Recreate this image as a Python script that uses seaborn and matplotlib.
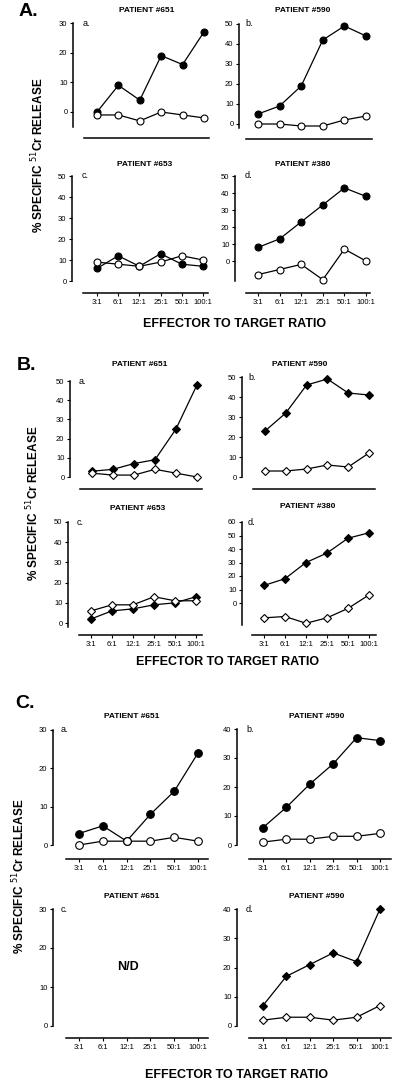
import numpy as np
import pandas as pd
import matplotlib
matplotlib.use('Agg')
import matplotlib.pyplot as plt
import seaborn as sns

ratios = ['3:1', '6:1', '12:1', '25:1', '50:1', '100:1']

# section A (circles)
a651_fill = [0, 9, 4, 19, 16, 27]
a651_open = [-1, -1, -3, 0, -1, -2]
a590_fill = [5, 9, 19, 42, 49, 44]
a590_open = [0, 0, -1, -1, 2, 4]
a653_fill = [6, 12, 7, 13, 8, 7]
a653_open = [9, 8, 7, 9, 12, 10]
a380_fill = [8, 13, 23, 33, 43, 38]
a380_open = [-8, -5, -2, -11, 7, 0]

# section B (diamonds)
b651_fill = [3, 4, 7, 9, 25, 48]
b651_open = [2, 1, 1, 4, 2, 0]
b590_fill = [23, 32, 46, 49, 42, 41]
b590_open = [3, 3, 4, 6, 5, 12]
b653_fill = [2, 6, 7, 9, 10, 13]
b653_open = [6, 9, 9, 13, 11, 11]
b380_fill = [13, 18, 30, 37, 48, 52]
b380_open = [-11, -10, -15, -11, -4, 6]

# section C
c651_fill = [3, 5, 1, 8, 14, 24]
c651_open = [0, 1, 1, 1, 2, 1]
c590_fill = [6, 13, 21, 28, 37, 36]
c590_open = [1, 2, 2, 3, 3, 4]
c590d_fill = [7, 17, 21, 25, 22, 40]
c590d_open = [2, 3, 3, 2, 3, 7]

W, H = 400, 1083
sns.set_style('white')
plt.rcParams['font.family'] = ['Liberation Sans', 'DejaVu Sans']
plt.rcParams['text.color'] = 'black'

fig = plt.figure(figsize=(W / 100, H / 100), dpi=100)
fig.patch.set_facecolor('white')


def ftext(x, y, s, **kw):
    fig.text(x / W, 1 - y / H, s, ha=kw.pop('ha', 'center'), va=kw.pop('va', 'center'),
             color='black', **kw)


def panel(geom, fill, hollow, marker, ms, yticks, show_x):
    # geom in pixels: y-spine x, x-line left/right/y, top tick pix & value, zero pix, spine low value, first/last point x
    ysp, xl, xr, xy, ptop, vtop, p0, lo, x0, x5 = geom
    ax = fig.add_axes([xl / W, 1 - xy / H, (xr - xl) / W, (xy - ptop) / H])
    s = (p0 - ptop) / vtop
    ax.set_ylim((p0 - xy) / s, vtop)
    dx = (x5 - x0) / 5
    ax.set_xlim((xl - x0) / dx, (xr - x0) / dx)
    ax.patch.set_alpha(0)

    if fill is not None:
        df = pd.DataFrame({'pos': np.arange(len(ratios)), 'fill': fill, 'open': hollow})
        for col, face in [('fill', 'black'), ('open', 'white')]:
            sns.lineplot(data=df, x='pos', y=col, ax=ax, color='black', lw=0.9,
                         marker=marker, markersize=ms, markerfacecolor=face,
                         markeredgecolor='black', markeredgewidth=0.8, clip_on=False)
    ax.set_xlabel('')
    ax.set_ylabel('')

    for side in ['top', 'right']:
        ax.spines[side].set_visible(False)
    for side in ['left', 'bottom']:
        ax.spines[side].set_color('black')
        ax.spines[side].set_linewidth(1.1)
    ax.spines['left'].set_position(('outward', (xl - ysp) * 0.72))
    ax.spines['left'].set_bounds(lo, vtop)

    ax.set_yticks(yticks)
    ax.set_yticklabels([str(t) for t in yticks], fontsize=5.5)
    if show_x:
        ax.set_xticks(np.arange(len(ratios)))
        ax.set_xticklabels(ratios, fontsize=5.5)
    else:
        ax.set_xticks([])
    ax.tick_params(left=True, bottom=show_x, length=2.5, width=0.8, color='black',
                   direction='out', pad=1.5, labelcolor='black')
    return ax


t30 = [0, 10, 20, 30]
t40 = [0, 10, 20, 30, 40]
t50 = [0, 10, 20, 30, 40, 50]
t60 = [0, 10, 20, 30, 40, 50, 60]

# A
panel((73, 84, 209, 138, 23, 30, 112, -5, 97, 204), a651_fill, a651_open, 'o', 5, t30, False)
panel((239, 246, 372, 139, 24, 50, 124, -2, 258, 366), a590_fill, a590_open, 'o', 5, t50, False)
panel((72, 83, 208, 293, 176, 50, 281, 0, 97, 203), a653_fill, a653_open, 'o', 5, t50, True)
panel((235, 246, 370, 293, 176, 50, 261, -12, 258, 366), a380_fill, a380_open, 'o', 5, t50, True)
# B
panel((70, 80, 202, 489, 381, 50, 477, 0, 92, 197), b651_fill, b651_open, 'D', 4, t50, False)
panel((242, 253, 375, 489, 377, 50, 477, 0, 265, 369), b590_fill, b590_open, 'D', 4, t50, False)
panel((68, 79, 202, 635, 522, 50, 623, -2, 91, 196), b653_fill, b653_open, 'D', 4, t50, True)
panel((242, 252, 376, 635, 522, 60, 603, -16, 264, 369), b380_fill, b380_open, 'D', 4, t60, True)
# C
panel((53, 66, 208, 859, 730, 30, 845, 0, 79, 198), c651_fill, c651_open, 'o', 5.5, t30, True)
panel((237, 249, 391, 859, 729, 40, 845, 0, 263, 380), c590_fill, c590_open, 'o', 5.5, t40, True)
panel((53, 66, 208, 1038, 909, 30, 1026, 0, 79, 198), None, None, 'o', 5.5, t30, True)
panel((237, 249, 391, 1038, 909, 40, 1026, 0, 263, 380), c590d_fill, c590d_open, 'D', 4.5, t40, True)

# section letters
ftext(28, 12, 'A.', fontsize=14, fontweight='bold')
ftext(27, 366, 'B.', fontsize=14, fontweight='bold')
ftext(25, 703, 'C.', fontsize=14, fontweight='bold')

# titles
tkw = dict(fontsize=6, fontweight='bold')
for x, y, s in [(147, 10, 'PATIENT #651'), (303, 10, 'PATIENT #590'),
                (145, 164, 'PATIENT #653'), (303, 164, 'PATIENT #380'),
                (140, 364, 'PATIENT #651'), (300, 364, 'PATIENT #590'),
                (138, 508, 'PATIENT #653'), (308, 506, 'PATIENT #380'),
                (132, 716, 'PATIENT #651'), (317, 716, 'PATIENT #590'),
                (132, 897, 'PATIENT #651'), (317, 897, 'PATIENT #590')]:
    ftext(x, y, s, **tkw)

# panel letters
for x, y, s in [(83, 24, 'a.'), (245, 24, 'b.'), (82, 176, 'c.'), (245, 176, 'd.'),
                (79, 381, 'a.'), (248, 377, 'b.'), (77, 522, 'c.'), (248, 522, 'd.'),
                (61, 730, 'a.'), (246, 730, 'b.'), (61, 909, 'c.'), (246, 909, 'd.')]:
    ftext(x, y, s, fontsize=6.5, ha='left')

ftext(128, 967, 'N/D', fontsize=9, fontweight='bold')

ylab = '% SPECIFIC $^{51}$Cr RELEASE'
for x, y in [(38, 155), (33, 503), (19, 876)]:
    ftext(x, y, ylab, fontsize=8.5, fontweight='bold', rotation=90)

for x, y in [(235, 324), (228, 662), (237, 1075)]:
    ftext(x, y, 'EFFECTOR TO TARGET RATIO', fontsize=9, fontweight='bold')

fig.savefig('out.png', dpi=100, facecolor='white')
